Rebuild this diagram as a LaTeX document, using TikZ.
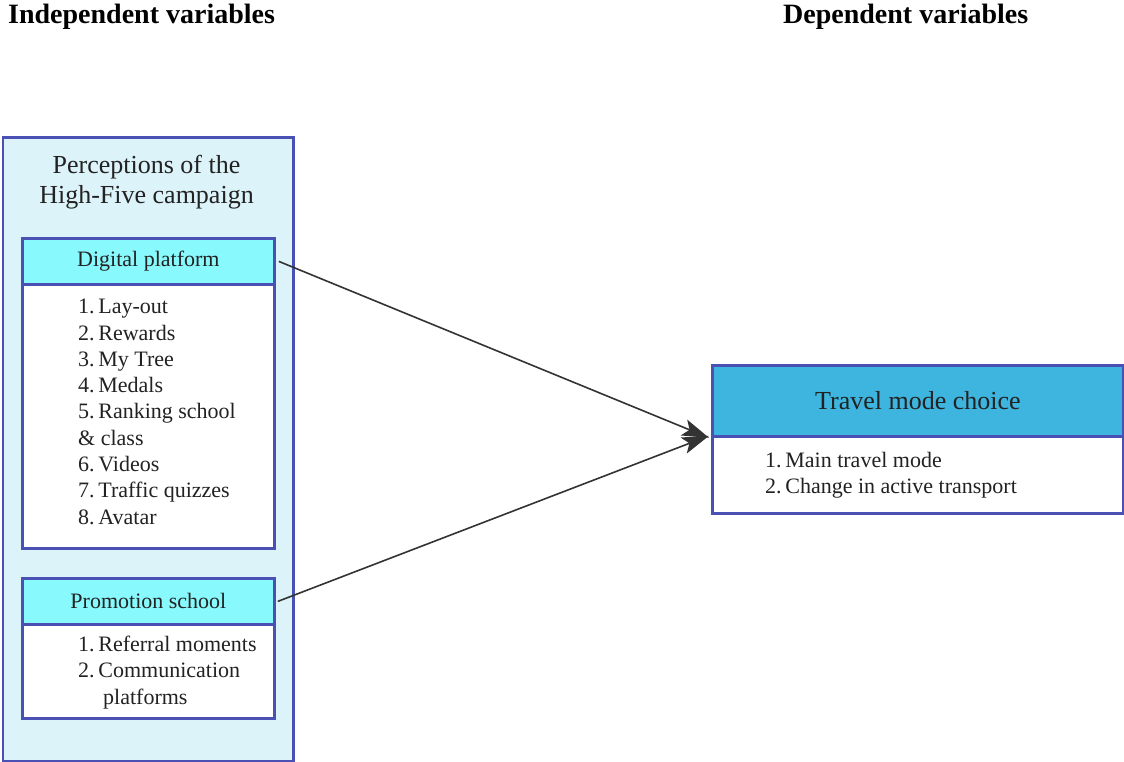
\documentclass[tikz,border=0pt]{standalone}
\usepackage{fontspec}
\setmainfont{LiberationSerif}[Extension=.ttf, UprightFont=*-Regular, BoldFont=*-Bold, ItalicFont=*-Italic, BoldItalicFont=*-BoldItalic]
\usetikzlibrary{arrows.meta}
\definecolor{bordc}{HTML}{4A50B4}
\definecolor{outerfill}{HTML}{DDF3FA}
\definecolor{hdrfill}{HTML}{88F9FC}
\definecolor{tmfill}{HTML}{3DB5DF}
\definecolor{arrc}{HTML}{333333}
\definecolor{txtc}{HTML}{222222}
\tikzset{
  box/.style={draw=bordc, line width=2.8pt, rectangle, inner sep=0pt, anchor=north west},
  hdrtext/.style={font=\fontsize{22}{26.3}\selectfont, text=txtc},
  listtext/.style={font=\fontsize{22}{26.3}\selectfont, text=txtc, align=left, inner sep=0pt, anchor=north west},
  heading/.style={font=\bfseries\fontsize{28}{32}\selectfont, text=black, inner sep=0pt, anchor=west},
  conn/.style={draw=arrc, line width=1.6pt, -{Stealth[length=27pt,width=17pt,inset=6pt]}},
}
\begin{document}
\begin{tikzpicture}[x=1pt,y=-1pt]
\useasboundingbox (0,0) rectangle (1124,762);
% headings
\node[heading] (indep) at (8,17) {Independent variables};
\node[heading] (dep) at (783,17) {Dependent variables};
% outer box
\node[box, fill=outerfill, minimum width=290.5pt, minimum height=623.5pt] (outer) at (1.5,136) {};
\node[font=\fontsize{26}{30}\selectfont, text=txtc, align=center, inner sep=0pt, anchor=north] (ptitle) at (146.5,155) {Perceptions of the\\High-Five campaign};
% digital platform
\node[box, fill=hdrfill, minimum width=252pt, minimum height=46pt, hdrtext] (dph) at (21,237) {Digital platform};
\node[box, fill=white, minimum width=252pt, minimum height=264pt] (dpb) at (21,283) {};
\node[listtext] (dpl) at (78,299) {1.\,Lay-out\\2.\,Rewards\\3.\,My Tree\\4.\,Medals\\5.\,Ranking school\\\& class\\6.\,Videos\\7.\,Traffic quizzes\\8.\,Avatar};
% promotion school
\node[box, fill=hdrfill, minimum width=252pt, minimum height=46pt, hdrtext] (psh) at (21,577) {Promotion school};
\node[box, fill=white, minimum width=252pt, minimum height=94pt] (psb) at (21,623) {};
\node[listtext] (psl) at (78,636) {1.\,Referral moments\\2.\,Communication\\\hspace*{25pt}platforms};
% travel mode choice
\node[box, fill=tmfill, minimum width=411pt, minimum height=71pt, font=\fontsize{26}{30}\selectfont, text=txtc] (tmh) at (711,364) {Travel mode choice};
\node[box, fill=white, minimum width=411pt, minimum height=77pt] (tmb) at (711,435) {};
\node[listtext] (tml) at (765,452) {1.\,Main travel mode\\2.\,Change in active transport};
% connectors
\draw[conn] ([xshift=3pt]dph.east) -- ([xshift=-2pt]tmh.south west);
\draw[conn] ([xshift=2pt]psh.east) -- ([xshift=-2pt,yshift=2pt]tmh.south west);
\end{tikzpicture}
\end{document}
